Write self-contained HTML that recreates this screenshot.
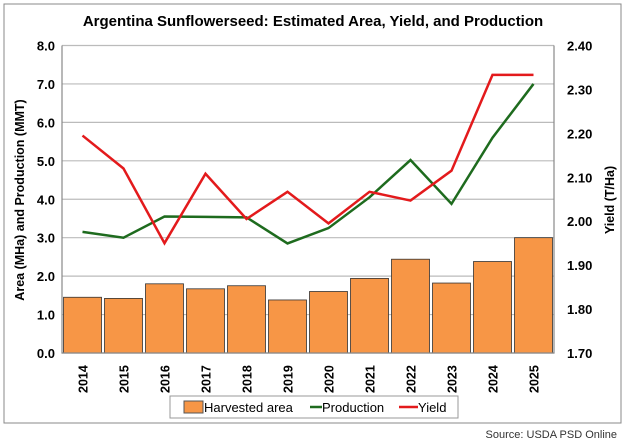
<!DOCTYPE html>
<html><head><meta charset="utf-8"><style>
body{margin:0;background:#fff;font-family:"Liberation Sans",sans-serif}
svg text{font-family:"Liberation Sans",sans-serif}
</style></head><body>
<svg width="626" height="443">
<rect x="4" y="4" width="617" height="419" fill="#fff" stroke="#888"/>
<text x="313" y="26" text-anchor="middle" font-size="15" font-weight="bold">Argentina Sunflowerseed: Estimated Area, Yield, and Production</text>
<g id="grid"></g><g id="bars"></g><g id="lines"></g><g id="axes"></g>
<text transform="translate(24,200) rotate(-90)" text-anchor="middle" font-size="12.5" font-weight="bold">Area (MHa) and Production (MMT)</text>
<text transform="translate(614,200) rotate(-90)" text-anchor="middle" font-size="12.5" font-weight="bold">Yield (T/Ha)</text>
<g>
<rect x="170" y="396" width="288" height="22" fill="#fff" stroke="#999"/>
<rect x="184" y="401" width="19" height="12" fill="#F79646" stroke="#555"/>
<text x="204" y="412" font-size="13">Harvested area</text>
<line x1="310" y1="407" x2="322" y2="407" stroke="#1E6B1E" stroke-width="2.5"/>
<text x="322" y="412" font-size="13">Production</text>
<line x1="399" y1="407" x2="418" y2="407" stroke="#E31A1C" stroke-width="2.5"/>
<text x="418" y="412" font-size="13">Yield</text>
</g>
<text x="617" y="438" text-anchor="end" font-size="11" fill="#333">Source: USDA PSD Online</text>
</svg>
<script>
const years=["2014","2015","2016","2017","2018","2019","2020","2021","2022","2023","2024","2025"];
const area=[1.45,1.42,1.80,1.67,1.75,1.38,1.60,1.94,2.44,1.82,2.38,3.00];
const production=[3.15,3.00,3.55,3.54,3.53,2.85,3.25,4.05,5.02,3.88,5.60,7.00];
const yieldVals=[2.195,2.12,1.95,2.108,2.005,2.067,1.995,2.067,2.047,2.115,2.333,2.333];
const leftTicks=[0,1,2,3,4,5,6,7,8];
const rightTicks=[1.70,1.80,1.90,2.00,2.10,2.20,2.30,2.40];
const X0=62,X1=554,Y0=353,Y1=45.5;
const NS="http://www.w3.org/2000/svg";
const bw=(X1-X0)/years.length;
const xc=i=>X0+bw*(i+0.5);
const yL=v=>Y0-(v/8)*(Y0-Y1);
const yR=v=>Y0-((v-1.7)/0.7)*(Y0-Y1);
function mk(tag,attrs,parent){const e=document.createElementNS(NS,tag);for(const k in attrs)e.setAttribute(k,attrs[k]);document.getElementById(parent).appendChild(e);return e;}
leftTicks.forEach(t=>{
 const g=mk("line",{x1:X0,x2:X1,y1:yL(t),y2:yL(t),stroke:"#bbb","stroke-width":1.2},"grid");
 
 
 const tx=mk("text",{x:X0-7,y:yL(t)+5,"text-anchor":"end","font-size":13,"font-weight":"bold"},"axes");
 tx.textContent=t.toFixed(1);
 
 
});
rightTicks.forEach(t=>{
 const tx=mk("text",{x:X1+13,y:yR(t)+5,"font-size":13,"font-weight":"bold"},"axes");
 tx.textContent=t.toFixed(2);
 
 
});
area.forEach((v,i)=>{
 const r=mk("rect",{x:X0+bw*i+1.5,y:yL(v),width:bw-3,height:Y0-yL(v),fill:"#F79646",stroke:"#333","stroke-width":0.8},"bars");
 
 
});
years.forEach((y,i)=>{
 const tx=mk("text",{transform:`translate(${xc(i)+5},${393}) rotate(-90)`,"font-size":12.5,"font-weight":"bold"},"axes");
 tx.textContent=y;
 
 
});
const ax=mk("path",{d:`M${X0},${Y1}V${Y0}H${X1}V${Y1}`,fill:"none",stroke:"#888","stroke-width":1.2},"axes");


const p=mk("polyline",{points:production.map((v,i)=>xc(i)+","+yL(v)).join(" "),fill:"none",stroke:"#1E6B1E","stroke-width":2.5},"lines");


const yl=mk("polyline",{points:yieldVals.map((v,i)=>xc(i)+","+yR(v)).join(" "),fill:"none",stroke:"#E31A1C","stroke-width":2.5},"lines");


</script>
</body></html>
